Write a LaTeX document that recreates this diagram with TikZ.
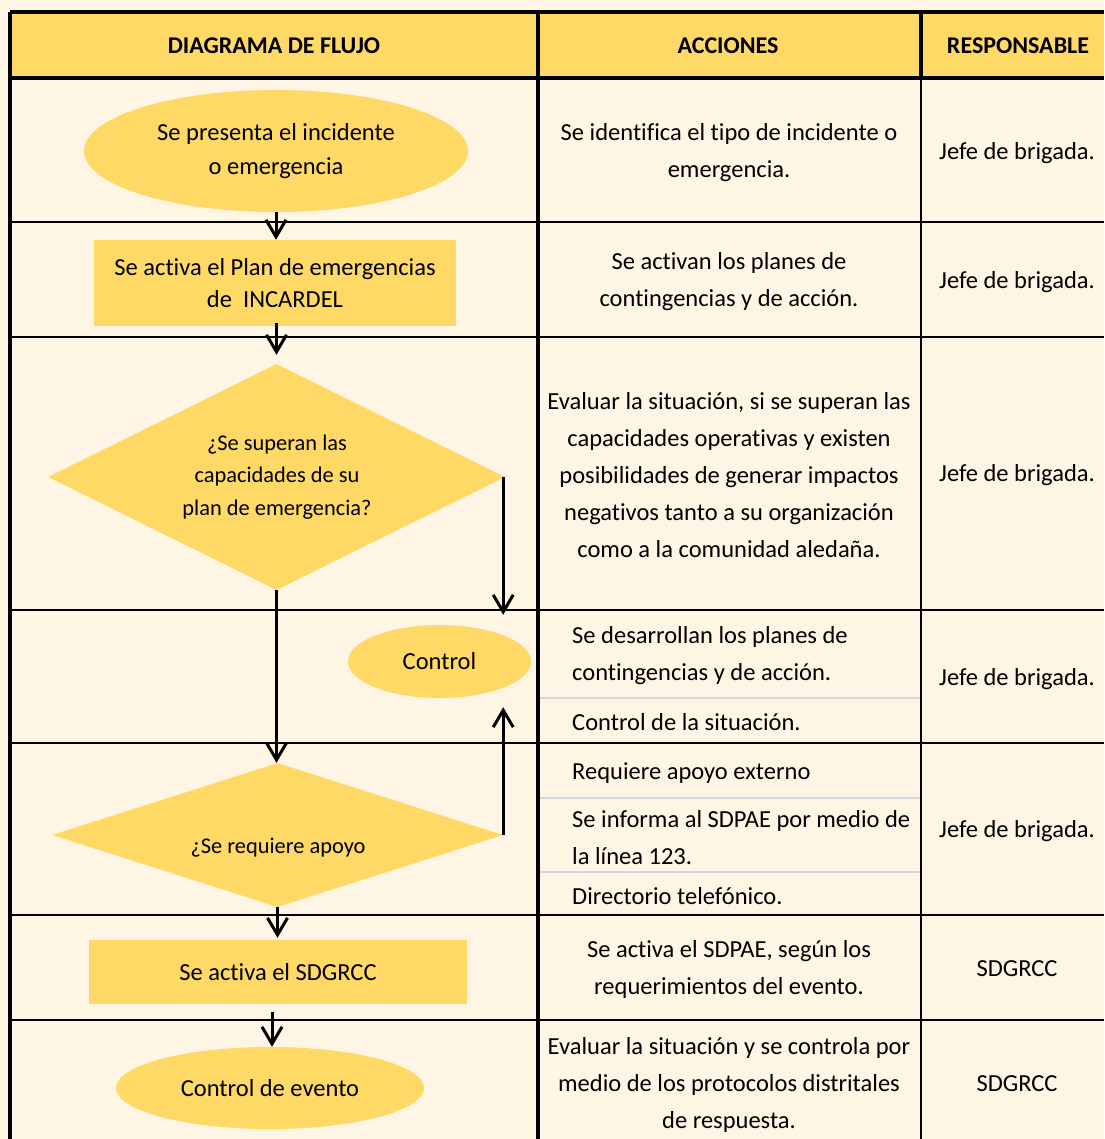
\documentclass[tikz,border=0pt]{standalone}
\usepackage{fontspec}
\setmainfont{Carlito}[Ligatures=NoCommon]
\usetikzlibrary{shapes.geometric,arrows.meta}
\definecolor{bgcream}{HTML}{FFF5E4}
\definecolor{flowyellow}{HTML}{FFD966}
\definecolor{subgray}{HTML}{D3D6DB}
\begin{document}
\begin{tikzpicture}[x=1pt,y=-1pt,
  txt/.style={font=\fontsize{24.5}{37}\selectfont, align=center, inner sep=0pt},
  ltxt/.style={font=\fontsize{24.5}{37}\selectfont, align=left, inner sep=0pt, anchor=west},
  hdr/.style={font=\fontsize{24}{28}\selectfont\bfseries, inner sep=0pt},
  term/.style={ellipse, fill=flowyellow, inner sep=0pt, align=center},
  proc/.style={rectangle, fill=flowyellow, inner sep=0pt, align=center},
  dec/.style={diamond, fill=flowyellow, inner sep=0pt},
  flow/.style={line width=3pt, -{Straight Barb[length=17pt,width=20pt,line width=3pt]}},
  rowline/.style={line width=2.2pt},
  thickline/.style={line width=3.2pt},
  subline/.style={line width=2.5pt, subgray},
]
% page and background
\fill[bgcream] (0,0) rectangle (1104,1139);
\useasboundingbox (0,0) rectangle (1104,1139);
% header band
\fill[flowyellow] (10,12) rectangle (1104,78);

% flow shapes
\node[term, minimum width=384pt, minimum height=122pt,
      font=\fontsize{24.5}{34}\selectfont] (e1) at (276,151)
      {Se presenta el incidente\\o emergencia};
\node[proc, minimum width=362pt, minimum height=86pt,
      font=\fontsize{24.5}{32}\selectfont] (r1) at (275,283)
      {Se activa el Plan de emergencias\\de \ INCARDEL};
\node[dec, minimum width=457pt, minimum height=226pt] (d1) at (276.5,477) {};
\node[font=\fontsize{22.4}{32.5}\selectfont, align=center, inner sep=0pt] (d1t) at (277,477)
      {¿Se superan las\\capacidades de su\\plan de emergencia?};
\node[term, minimum width=183pt, minimum height=73pt,
      font=\fontsize{24.5}{30}\selectfont] (ctl) at (439.5,661.5) {Control};
\node[dec, minimum width=451pt, minimum height=144pt] (d2) at (277.5,835) {};
\node[font=\fontsize{22.4}{30}\selectfont, inner sep=0pt] (d2t) at (278,848) {¿Se requiere apoyo};
\node[proc, minimum width=378pt, minimum height=64pt,
      font=\fontsize{24.5}{32}\selectfont] (r3) at (278,972) {Se activa el SDGRCC};
\node[term, minimum width=308pt, minimum height=82pt,
      font=\fontsize{24.5}{32}\selectfont] (e4) at (270,1088) {Control de evento};

% table lines
\draw[thickline] (10,12) -- (1104,12);
\draw[thickline] (10,12) -- (10,1139);
\draw[thickline] (10,78) -- (1104,78);
\draw[thickline] (538,12) -- (538,1139);
\draw[thickline] (921,12) -- (921,78);
\draw[rowline] (921,78) -- (921,1139);
\foreach \yy in {222,337,610,743,915,1020}
  \draw[rowline] (10,\yy) -- (1104,\yy);
\foreach \yy in {698,798,872}
  \draw[subline] (540,\yy) -- (919.5,\yy);

% headers
\node[hdr] (h1) at (274,46) {DIAGRAMA DE FLUJO};
\node[hdr] (h2) at (728,46) {ACCIONES};
\node[hdr] (h3) at (1018,46) {RESPONSABLE};

% actions
\node[txt] (a1) at (729,153) {Se identifica el tipo de incidente o\\emergencia.};
\node[txt] (a2) at (729,282) {Se activan los planes de\\contingencias y de acción.};
\node[txt] (a3) at (729,475) {Evaluar la situación, si se superan las\\capacidades operativas y existen\\posibilidades de generar impactos\\negativos tanto a su organización\\como a la comunidad aledaña.};
\node[ltxt] (a4) at (572,656) {Se desarrollan los planes de\\contingencias y de acción.};
\node[ltxt] (a5) at (572,722) {Control de la situación.};
\node[ltxt] (a6) at (572,773) {Requiere apoyo externo};
\node[ltxt] (a7) at (572,838) {Se informa al SDPAE por medio de\\la línea 123.};
\node[ltxt] (a8) at (572,896) {Directorio telefónico.};
\node[txt] (a9) at (729,969) {Se activa el SDPAE, según los\\requerimientos del evento.};
\node[txt] (a10) at (729,1085) {Evaluar la situación y se controla por\\medio de los protocolos distritales\\de respuesta.};

% responsables
\node[txt] (p1) at (1017,153) {Jefe de brigada.};
\node[txt] (p2) at (1017,282) {Jefe de brigada.};
\node[txt] (p3) at (1017,475) {Jefe de brigada.};
\node[txt] (p4) at (1017,679) {Jefe de brigada.};
\node[txt] (p5) at (1017,831) {Jefe de brigada.};
\node[txt] (p6) at (1017,969) {SDGRCC};
\node[txt] (p7) at (1017,1084) {SDGRCC};

% connectors
\draw[flow] (e1.south) -- (e1.south |- r1.north);
\draw[flow, shorten <=-3pt, shorten >=9pt] (r1.south -| d1.north) -- (d1.north);
\draw[flow] (d1.south) -- (d1.south |- d2.north);
\draw[flow, shorten >=10pt] ([xshift=-2pt]d1.east) -- ([xshift=-2pt]d1.east |- ctl.north);
\draw[flow, shorten >=9pt] (d2.east) -- (d2.east |- ctl.south);
\draw[flow, shorten >=2pt] (d2.south) -- (d2.south |- r3.north);
\draw[flow, shorten <=8pt] ([xshift=-6pt]r3.south) -- ([xshift=-6pt]r3.south |- e4.north);
\end{tikzpicture}
\end{document}
